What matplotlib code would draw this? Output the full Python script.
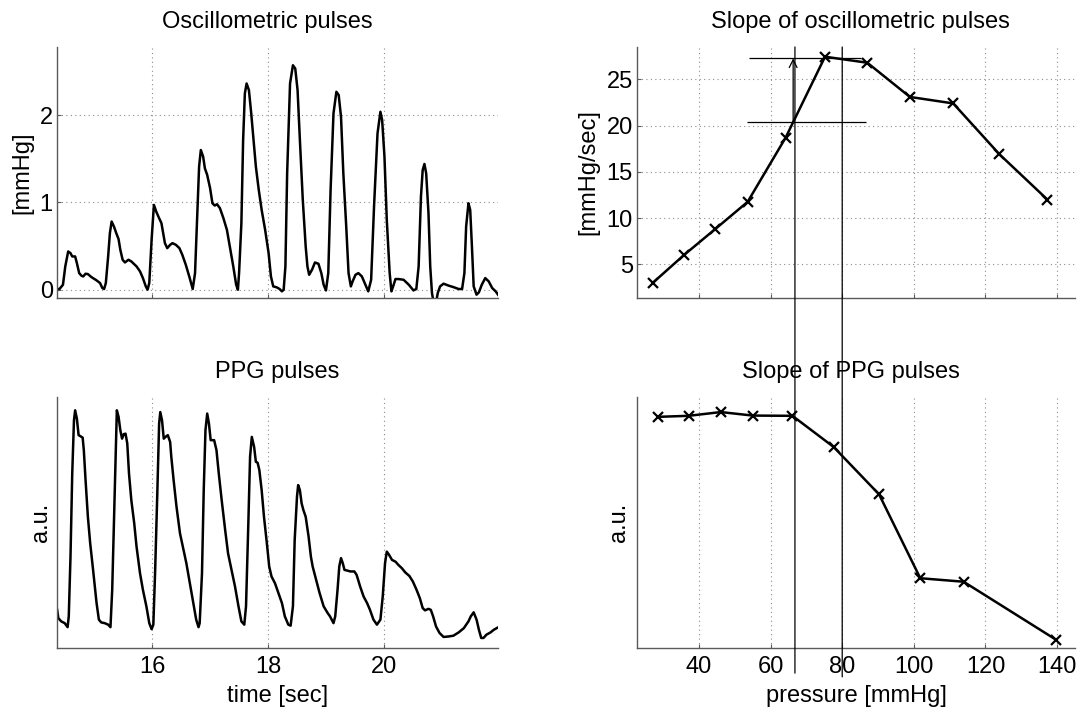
import matplotlib
matplotlib.use("Agg")
import matplotlib.pyplot as plt
from matplotlib.patches import ConnectionPatch
from matplotlib import transforms

plt.rcParams['font.family'] = ['Liberation Sans', 'DejaVu Sans']
FS = 17

# ---------------- data ----------------
osc_time = [14.36, 14.40, 14.46, 14.50, 14.55, 14.59, 14.62, 14.67, 14.70, 14.74, 14.78, 14.81, 14.85, 14.89,
            14.95, 15.04, 15.10, 15.14, 15.17, 15.20, 15.24, 15.27, 15.30, 15.34, 15.38, 15.42, 15.45, 15.49,
            15.53, 15.59, 15.64, 15.73, 15.79, 15.84, 15.89, 15.92, 15.95, 15.99, 16.03, 16.07, 16.12, 16.16,
            16.19, 16.22, 16.26, 16.31, 16.35, 16.41, 16.47, 16.52, 16.58, 16.64, 16.70, 16.74, 16.77, 16.81,
            16.84, 16.88, 16.91, 16.95, 17.00, 17.04, 17.08, 17.12, 17.17, 17.23, 17.29, 17.34, 17.40, 17.45,
            17.48, 17.50, 17.54, 17.57, 17.60, 17.63, 17.67, 17.71, 17.75, 17.79, 17.84, 17.89, 17.95, 18.01,
            18.05, 18.09, 18.15, 18.20, 18.24, 18.27, 18.30, 18.33, 18.38, 18.43, 18.47, 18.51, 18.55, 18.60,
            18.65, 18.68, 18.71, 18.76, 18.81, 18.87, 18.92, 18.96, 19.00, 19.04, 19.08, 19.13, 19.18, 19.22,
            19.26, 19.30, 19.35, 19.39, 19.43, 19.46, 19.51, 19.56, 19.62, 19.68, 19.73, 19.78, 19.83, 19.89,
            19.94, 19.97, 20.01, 20.05, 20.10, 20.13, 20.16, 20.20, 20.25, 20.34, 20.43, 20.51, 20.56, 20.60,
            20.64, 20.67, 20.70, 20.73, 20.77, 20.80, 20.83, 20.85, 20.89, 20.93, 20.97, 21.03, 21.12, 21.20,
            21.29, 21.35, 21.39, 21.42, 21.46, 21.49, 21.52, 21.55, 21.60, 21.64, 21.69, 21.75, 21.81, 21.87,
            21.93, 21.97]
osc_mmhg = [0.008, 0.008, 0.057, 0.267, 0.438, 0.419, 0.381, 0.381, 0.305, 0.19, 0.16, 0.152, 0.183, 0.179, 0.145,
            0.107, 0.076, 0.019, 0.008, 0.076, 0.381, 0.648, 0.781, 0.724, 0.648, 0.579, 0.457, 0.343, 0.312,
            0.343, 0.324, 0.267, 0.21, 0.133, 0.038, 0.0, 0.076, 0.571, 0.971, 0.895, 0.819, 0.762, 0.648,
            0.533, 0.476, 0.514, 0.533, 0.514, 0.476, 0.4, 0.286, 0.152, 0.008, 0.19, 0.724, 1.41, 1.6,
            1.524, 1.39, 1.314, 1.162, 0.99, 0.964, 0.979, 0.933, 0.819, 0.686, 0.495, 0.267, 0.057, 0.0,
            0.19, 0.762, 1.714, 2.248, 2.362, 2.286, 2.019, 1.714, 1.41, 1.143, 0.914, 0.686, 0.419, 0.152,
            0.038, 0.027, 0.008, -0.019, 0.0, 0.267, 1.333, 2.362, 2.571, 2.533, 2.286, 1.714, 1.029, 0.495,
            0.267, 0.171, 0.229, 0.312, 0.297, 0.19, 0.057, -0.008, 0.19, 1.143, 2.019, 2.267, 2.229, 1.981,
            1.333, 0.724, 0.19, 0.038, 0.095, 0.171, 0.19, 0.152, 0.057, -0.019, 0.114, 0.952, 1.79, 2.038,
            1.943, 1.524, 0.8, 0.19, -0.019, 0.038, 0.122, 0.122, 0.114, 0.057, -0.008, 0.008, 0.267, 1.067,
            1.371, 1.44, 1.333, 0.876, 0.267, -0.038, -0.114, -0.19, -0.038, 0.038, 0.069, 0.046, 0.03, 0.008,
            0.008, 0.19, 0.724, 0.99, 0.914, 0.495, 0.038, -0.057, -0.03, 0.057, 0.133, 0.095, 0.019, -0.019,
            -0.057]

ppg_time = [14.36, 14.38, 14.43, 14.49, 14.54, 14.56, 14.59, 14.62, 14.65, 14.67, 14.70, 14.73, 14.76, 14.80,
            14.82, 14.85, 14.89, 14.93, 14.98, 15.04, 15.08, 15.12, 15.18, 15.24, 15.28, 15.31, 15.34, 15.37,
            15.39, 15.42, 15.45, 15.48, 15.51, 15.54, 15.57, 15.60, 15.64, 15.69, 15.73, 15.79, 15.84, 15.90,
            15.95, 15.99, 16.02, 16.05, 16.09, 16.12, 16.14, 16.17, 16.20, 16.23, 16.27, 16.31, 16.33, 16.37,
            16.42, 16.48, 16.54, 16.59, 16.65, 16.71, 16.76, 16.80, 16.82, 16.86, 16.89, 16.92, 16.95, 16.98,
            17.01, 17.04, 17.07, 17.11, 17.15, 17.20, 17.26, 17.31, 17.37, 17.43, 17.49, 17.54, 17.59, 17.62,
            17.66, 17.69, 17.72, 17.76, 17.79, 17.82, 17.85, 17.89, 17.93, 17.98, 18.02, 18.06, 18.12, 18.18,
            18.24, 18.29, 18.35, 18.39, 18.43, 18.46, 18.50, 18.52, 18.55, 18.58, 18.61, 18.65, 18.70, 18.74,
            18.77, 18.83, 18.89, 18.96, 19.03, 19.07, 19.13, 19.16, 19.20, 19.23, 19.26, 19.29, 19.32, 19.36,
            19.42, 19.49, 19.53, 19.59, 19.65, 19.71, 19.76, 19.82, 19.88, 19.94, 19.98, 20.02, 20.05, 20.09,
            20.14, 20.20, 20.25, 20.31, 20.37, 20.44, 20.50, 20.56, 20.62, 20.67, 20.71, 20.77, 20.81, 20.85,
            20.90, 20.96, 21.03, 21.12, 21.20, 21.29, 21.38, 21.46, 21.50, 21.55, 21.60, 21.64, 21.68, 21.72,
            21.77, 21.84, 21.90, 21.97]
ppg_au = [0.152, 0.119, 0.106, 0.099, 0.083, 0.126, 0.364, 0.695, 0.907, 0.947, 0.914, 0.848, 0.844, 0.838,
          0.788, 0.669, 0.523, 0.417, 0.311, 0.179, 0.113, 0.102, 0.099, 0.093, 0.083, 0.232, 0.497, 0.762,
          0.947, 0.921, 0.868, 0.834, 0.852, 0.854, 0.815, 0.695, 0.589, 0.497, 0.404, 0.298, 0.232, 0.166,
          0.099, 0.075, 0.093, 0.298, 0.629, 0.894, 0.94, 0.907, 0.834, 0.841, 0.848, 0.821, 0.762, 0.669,
          0.563, 0.457, 0.391, 0.338, 0.258, 0.179, 0.113, 0.083, 0.099, 0.298, 0.629, 0.868, 0.934, 0.894,
          0.828, 0.828, 0.828, 0.788, 0.695, 0.589, 0.47, 0.377, 0.311, 0.245, 0.166, 0.106, 0.093, 0.166,
          0.497, 0.762, 0.841, 0.801, 0.742, 0.738, 0.709, 0.629, 0.523, 0.417, 0.325, 0.285, 0.258, 0.219,
          0.179, 0.126, 0.093, 0.089, 0.166, 0.43, 0.603, 0.649, 0.629, 0.576, 0.55, 0.523, 0.444, 0.364,
          0.325, 0.272, 0.219, 0.166, 0.139, 0.126, 0.099, 0.126, 0.232, 0.325, 0.358, 0.338, 0.311, 0.309,
          0.305, 0.305, 0.291, 0.245, 0.205, 0.179, 0.152, 0.113, 0.093, 0.113, 0.205, 0.338, 0.384, 0.371,
          0.351, 0.344, 0.331, 0.318, 0.301, 0.287, 0.265, 0.234, 0.199, 0.159, 0.15, 0.156, 0.152, 0.126,
          0.086, 0.06, 0.044, 0.046, 0.049, 0.062, 0.079, 0.106, 0.126, 0.142, 0.113, 0.073, 0.04, 0.04,
          0.053, 0.062, 0.073, 0.082]

osc_slope_pressure = [27.1, 35.8, 44.5, 53.6, 64.2, 75.2, 87.0, 98.9, 111.0, 123.9, 137.3]
osc_slope_values = [3.0, 6.0, 8.8, 11.76, 18.7, 27.45, 26.8, 23.1, 22.4, 16.9, 12.0]

ppg_slope_pressure = [28.6, 37.1, 46.1, 55.0, 66.1, 77.6, 90.3, 101.8, 113.9, 139.7]
ppg_slope_values = [0.921, 0.925, 0.940, 0.926, 0.925, 0.801, 0.612, 0.278, 0.264, 0.033]

# annotation values
marker_pressures = [66.8, 80.0]
arrow_pressure = 66.3
level_low, level_high = 20.37, 27.27
level_low_span = (53.4, 86.6)
level_high_span = (54.0, 85.3)

time_ticks = [16, 18, 20]
pressure_ticks = [40, 60, 80, 100, 120, 140]
mmhg_ticks = [0, 1, 2]
slope_ticks = [5, 10, 15, 20, 25]

# ---------------- figure ----------------
W, H = 1085, 709
fig = plt.figure(figsize=(W / 100, H / 100), dpi=100)

def box(l, r, t, b):
    return [l / W, (H - b) / H, (r - l) / W, (b - t) / H]

ax_tl = fig.add_axes(box(57, 498, 47, 298))
ax_bl = fig.add_axes(box(57, 498, 397, 648))
ax_tr = fig.add_axes(box(637, 1075, 47, 298))
ax_br = fig.add_axes(box(637, 1075, 397, 648))

SPINE = '#5a5a5a'
GRID = dict(color='#8c8c8c', linestyle=(0, (1, 3)), linewidth=0.8)

for ax in (ax_tl, ax_bl, ax_tr, ax_br):
    for s in ('top', 'right'):
        ax.spines[s].set_visible(False)
    for s in ('left', 'bottom'):
        ax.spines[s].set_color(SPINE)
        ax.spines[s].set_linewidth(1.0)
    ax.tick_params(direction='in', length=3, width=0.8, color=SPINE, labelsize=FS, pad=3)
    ax.set_axisbelow(True)

LINE = dict(color='black', linewidth=1.8)


def ylabel_at(ax, text, xfrac):
    ax.set_ylabel(text, fontsize=FS)
    ax.yaxis.label.set_va('center')
    ax.yaxis.set_label_coords(xfrac, 0.5)


def xlabel_at(ax, text, yfrac):
    ax.set_xlabel(text, fontsize=FS)
    ax.xaxis.label.set_va('center')
    ax.xaxis.set_label_coords(0.5, yfrac)


# top-left
ax_tl.plot(osc_time, osc_mmhg, **LINE)
ax_tl.set_xlim(14.357, 21.97)
ax_tl.set_ylim(-0.095, 2.78)
ax_tl.set_xticks(time_ticks)
ax_tl.set_xticklabels([])
ax_tl.set_yticks(mmhg_ticks)
ax_tl.grid(True, **GRID)
ylabel_at(ax_tl, '[mmHg]', -0.079)
ax_tl.set_title('Oscillometric pulses', fontsize=FS, x=0.476, pad=13.5)

# bottom-left
ax_bl.plot(ppg_time, ppg_au, **LINE)
ax_bl.set_xlim(14.357, 21.97)
ax_bl.set_ylim(0, 1)
ax_bl.set_xticks(time_ticks)
ax_bl.set_yticks([])
ax_bl.grid(True, axis='x', **GRID)
ylabel_at(ax_bl, 'a.u.', -0.036)
xlabel_at(ax_bl, 'time [sec]', -0.19)
ax_bl.tick_params(axis='x', pad=6)
ax_bl.set_title('PPG pulses', fontsize=FS, pad=13.5)

# top-right
ax_tr.plot(osc_slope_pressure, osc_slope_values, marker='x', markersize=7,
           markeredgewidth=1.6, **LINE)
ax_tr.set_xlim(22.7, 145)
ax_tr.set_ylim(1.36, 28.5)
ax_tr.set_xticks(pressure_ticks)
ax_tr.set_xticklabels([])
ax_tr.set_yticks(slope_ticks)
ax_tr.grid(True, **GRID)
ylabel_at(ax_tr, '[mmHg/sec]', -0.110)
ax_tr.set_title('Slope of oscillometric pulses', fontsize=FS, x=0.509, pad=13.5)

# bottom-right
ax_br.plot(ppg_slope_pressure, ppg_slope_values, marker='x', markersize=7,
           markeredgewidth=1.6, **LINE)
ax_br.set_xlim(22.7, 145)
ax_br.set_ylim(0, 1)
ax_br.set_xticks(pressure_ticks)
ax_br.set_yticks([])
ax_br.grid(True, axis='x', **GRID)
ylabel_at(ax_br, 'a.u.', -0.040)
xlabel_at(ax_br, 'pressure [mmHg]', -0.19)
ax_br.tick_params(axis='x', pad=6)
ax_br.set_title('Slope of PPG pulses', fontsize=FS, x=0.489, pad=13.5)

# annotation overlay
ax_tr.hlines([level_high], *level_high_span, color='black', linewidth=0.9, clip_on=False)
ax_tr.hlines([level_low], *level_low_span, color='black', linewidth=0.9, clip_on=False)
ax_tr.annotate('', xy=(arrow_pressure, level_high), xytext=(arrow_pressure, level_low),
               arrowprops=dict(arrowstyle='->', color='black', lw=0.9, shrinkA=0, shrinkB=0,
                               mutation_scale=14))
br_blend = transforms.blended_transform_factory(ax_br.transData, ax_br.transAxes)
tr_blend = transforms.blended_transform_factory(ax_tr.transData, ax_tr.transAxes)
for p, yend in zip(marker_pressures, (-0.10, -0.115)):
    con = ConnectionPatch(xyA=(p, 1.0), coordsA=tr_blend, xyB=(p, yend), coordsB=br_blend,
                          color='black', linewidth=0.9, zorder=5)
    fig.add_artist(con)

fig.savefig('out.png', dpi=100)
